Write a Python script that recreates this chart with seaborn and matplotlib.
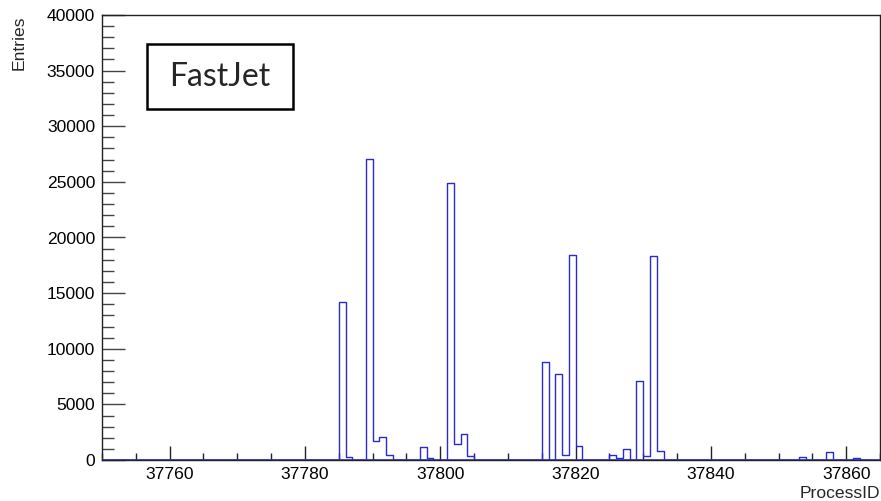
import numpy as np
import pandas as pd
import matplotlib
matplotlib.use("Agg")
import matplotlib.pyplot as plt
from matplotlib.patches import Rectangle
from matplotlib.ticker import MultipleLocator
import seaborn as sns

# Filled bins of the ProcessID histogram (left edge of each unit-width bin) and their entries
process_ids = [37785, 37786, 37789, 37790, 37791, 37792, 37797, 37798,
               37801, 37802, 37803, 37804, 37815, 37817, 37818, 37819,
               37820, 37825, 37826, 37827, 37829, 37830, 37831, 37832,
               37853, 37857, 37861]
entries = [14180, 300, 27060, 1700, 2100, 420, 1150, 150,
           24870, 1450, 2340, 330, 8850, 7700, 420, 18430,
           1300, 420, 150, 960, 7070, 330, 18340, 850,
           300, 700, 150]

x_min, x_max = 37750, 37865
x_ticks = [37760, 37780, 37800, 37820, 37840, 37860]
y_ticks = [0, 5000, 10000, 15000, 20000, 25000, 30000, 35000, 40000]

sns.set_style("white")
plt.rcParams["font.family"] = ["Liberation Sans", "DejaVu Sans"]

df = pd.DataFrame({"ProcessID": np.array(process_ids, dtype=float) + 0.5,
                   "Entries": np.array(entries, dtype=float)})

fig = plt.figure(figsize=(8.81, 5.01), dpi=100)
ax = fig.add_axes([102 / 881, 41 / 501, 778 / 881, 445 / 501])

hist_color = "#2a2ad0"
sns.histplot(data=df, x="ProcessID", weights="Entries", binwidth=1,
             binrange=(x_min, x_max), element="step", fill=False,
             color=hist_color, linewidth=1.0, ax=ax)
ax.axhline(0, color=hist_color, linewidth=1.2, zorder=5)

ax.set_xlim(x_min, x_max)
ax.set_ylim(0, 40000)
ax.set_xticks(x_ticks)
ax.set_xticklabels([str(t) for t in x_ticks])
ax.set_yticks(y_ticks)
ax.set_yticklabels([str(t) for t in y_ticks])
ax.xaxis.set_minor_locator(MultipleLocator(5))
ax.yaxis.set_minor_locator(MultipleLocator(1000))
ax.set_xlabel("")
ax.set_ylabel("")

ax.tick_params(which="both", bottom=True, left=True, top=False, right=False)
ax.tick_params(axis="x", which="major", direction="in", length=10, width=1,
               color="#222222", labelsize=12.6, pad=5, labelcolor="black")
ax.tick_params(axis="x", which="minor", direction="in", length=5.4, width=1,
               color="#222222")
ax.tick_params(axis="y", which="major", direction="in", length=16.6, width=1,
               color="#444444", labelsize=12.6, pad=5, labelcolor="black")
ax.tick_params(axis="y", which="minor", direction="in", length=8.4, width=1,
               color="#444444")
for side in ["left", "right", "top", "bottom"]:
    ax.spines[side].set_visible(True)
    ax.spines[side].set_color("#222222")
    ax.spines[side].set_linewidth(1.0)

fig.text(19 / 881, 1 - 15 / 501, "Entries", rotation=90, ha="center", va="top",
         fontsize=12.6)
fig.text(880 / 881, 3 / 501, "ProcessID", ha="right", va="baseline", fontsize=12.6)

# Legend-style label box
box = Rectangle((147 / 881, 1 - 109 / 501), 146 / 881, 65 / 501,
                transform=fig.transFigure, fill=True, facecolor="white",
                edgecolor="black", linewidth=1.8)
fig.add_artist(box)
fig.text(220 / 881, 1 - 77 / 501, "FastJet", ha="center", va="center",
         fontsize=23, family=["Lato", "DejaVu Sans"])

fig.savefig("out.png", dpi=100)
